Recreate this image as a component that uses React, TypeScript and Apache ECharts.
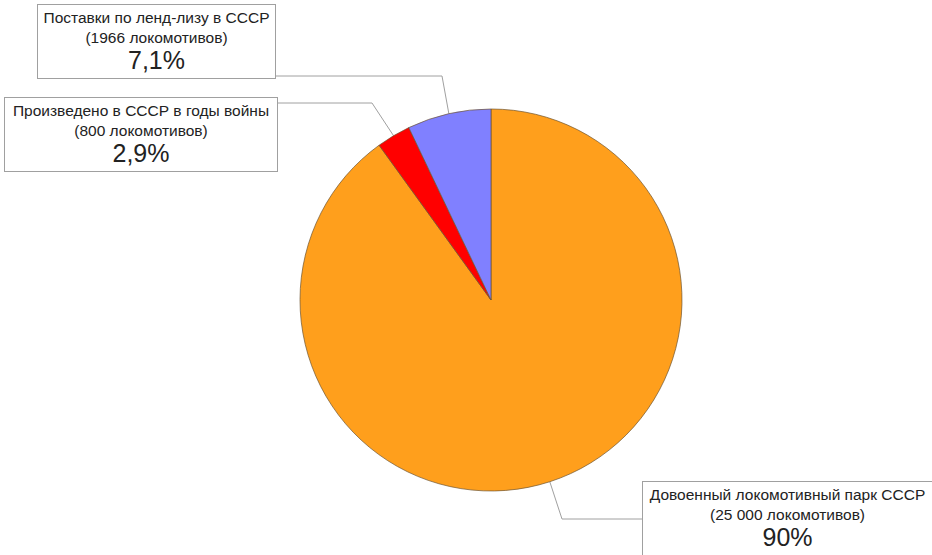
import React, { useEffect, useRef } from "react";
import * as echarts from "echarts";

const names = [
  "Довоенный локомотивный парк СССР",
  "Произведено в СССР в годы войны",
  "Поставки по ленд-лизу в СССР",
];
const counts = ["(25 000 локомотивов)", "(800 локомотивов)", "(1966 локомотивов)"];
const values = [25000, 800, 1966];
const percentLabels = ["90%", "2,9%", "7,1%"];
const colors = ["#FF9F1C", "#FF0000", "#8080FF"];

// label box layout: [centerX, top, contentWidth]
const boxes = [
  [787.5, 482, 281],
  [141, 98, 264],
  [156.5, 5, 229],
];
// elbow of leader line and end at box edge: [elbowX, elbowY, endX]
const guides = [
  [562, 519, 643],
  [372, 103, 277],
  [442, 76, 275],
];

export default function App() {
  const ref = useRef<HTMLDivElement>(null);
  useEffect(() => {
    if (!ref.current) return;
    const chart = echarts.init(ref.current, null, { renderer: "svg" });
    chart.setOption({
      animation: false,
      backgroundColor: "#ffffff",
      series: [
        {
          type: "pie",
          center: [491, 300],
          radius: 191,
          startAngle: 90,
          clockwise: true,
          avoidLabelOverlap: false,
          itemStyle: { borderColor: "#6e5530", borderWidth: 0.7 },
          data: values.map((v, i) => ({
            value: v,
            name: names[i],
            itemStyle: { color: colors[i] },
            label: { width: boxes[i][2] },
          })),
          label: {
            show: true,
            position: "outside",
            formatter: (p: any) =>
              `{a|${names[p.dataIndex]}}\n{a|${counts[p.dataIndex]}}\n{b|${percentLabels[p.dataIndex]}}`,
            backgroundColor: "#ffffff",
            borderColor: "#a0a0a0",
            borderWidth: 1,
            padding: [2, 4, 6, 4],
            rich: {
              a: {
                fontFamily: "Liberation Sans",
                fontSize: 15.5,
                lineHeight: 20,
                color: "#222",
                align: "center",
              },
              b: {
                fontFamily: "Liberation Sans",
                fontSize: 25,
                lineHeight: 25,
                color: "#222",
                align: "center",
              },
            },
          },
          labelLine: {
            show: true,
            length: 20,
            length2: 20,
            lineStyle: { color: "#a0a0a0", width: 1 },
          },
          labelLayout: (params: any) => {
            const i = params.dataIndex;
            const p0 = params.labelLinePoints ? params.labelLinePoints[0] : [0, 0];
            const g = guides[i];
            return {
              x: boxes[i][0],
              y: boxes[i][1],
              align: "center",
              verticalAlign: "top",
              labelLinePoints: [p0, [g[0], g[1]], [g[2], g[1]]],
            };
          },
        },
      ],
    });
    return () => chart.dispose();
  }, []);
  return (
    <div
      ref={ref}
      style={{ position: "absolute", left: 0, top: 0, width: 932, height: 555 }}
    />
  );
}
